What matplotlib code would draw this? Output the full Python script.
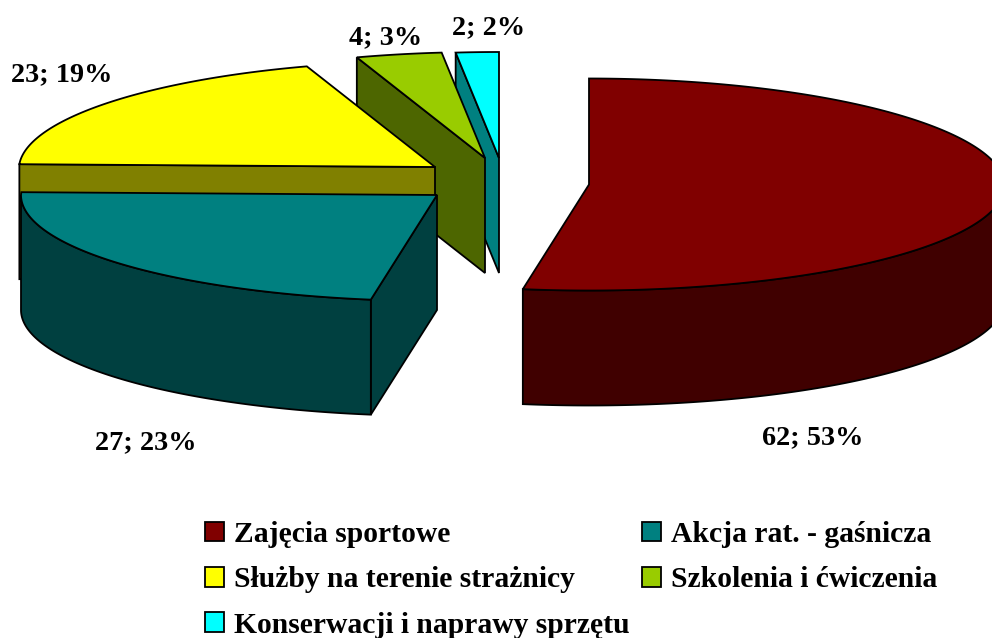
import numpy as np
import matplotlib
matplotlib.use("Agg")
import matplotlib.pyplot as plt
from matplotlib.patches import Patch

# data
categories = ["Zajęcia sportowe", "Akcja rat. - gaśnicza", "Służby na terenie strażnicy",
              "Szkolenia i ćwiczenia", "Konserwacji i naprawy sprzętu"]
values = [62, 27, 23, 4, 2]

# colors of top surface and of the shaded side
top_colors = ["#800000", "#008080", "#FFFF00", "#99CC00", "#00FFFF"]
side_colors = ["#400000", "#004040", "#808000", "#4D6600", "#008080"]

# layout, all in image pixels
centers = [(589, 184.5), (437, 195), (435, 167), (485, 158), (499, 158)]
label_pos = [(813, 438), (146, 443), (62, 75), (386, 38), (489, 28)]
rx = 416
ry = 106
depth = 115

plt.rcParams['font.family'] = ['Liberation Serif', 'DejaVu Serif']
plt.rcParams['font.weight'] = 'bold'
plt.rcParams['font.size'] = 20.3

fig = plt.figure(figsize=(9.92, 6.38), dpi=100)
ax = fig.add_axes([0, 0, 1, 1])
ax.set_xlim(0, 992)
ax.set_ylim(638, 0)
ax.axis('off')


def rim(cx, cy, a1, a2):
    # points on the ellipse, angle clockwise from 12 o'clock
    n = max(2, int(a2 - a1) * 2)
    t = np.radians(np.linspace(a1, a2, n))
    # back of the pie is a bit narrower
    scale = 1 - 0.02 * np.clip(np.cos(t), 0, None)
    return cx + rx * scale * np.sin(t), cy - ry * np.cos(t)


total = sum(values)
edges = np.cumsum([0] + values) / total * 360

# back slices first so the front ones cover them
for i in range(len(values) - 1, -1, -1):
    cx, cy = centers[i]
    a1, a2 = edges[i], edges[i + 1]

    # cut face on the start angle, only seen on the left half
    if a1 > 180:
        x0, y0 = rim(cx, cy, a1, a1)
        fx = [cx, x0[0], x0[0], cx]
        fy = [cy, y0[0], y0[0] + depth, cy + depth]
        ax.fill(fx, fy, fc=side_colors[i], ec='black', lw=1.3)

    # outer wall, front part of the rim
    w1, w2 = max(a1, 90), min(a2, 270)
    if w1 < w2:
        x, y = rim(cx, cy, w1, w2)
        ax.fill(np.r_[x, x[::-1]], np.r_[y, y[::-1] + depth],
                fc=side_colors[i], ec='black', lw=1.3)

    # top
    x, y = rim(cx, cy, a1, a2)
    ax.fill(np.r_[cx, x], np.r_[cy, y], fc=top_colors[i], ec='black', lw=1.3)

for v, pos in zip(values, label_pos):
    ax.text(pos[0], pos[1], "%d; %d%%" % (v, round(100 * v / total)),
            ha='center', va='center', color='black')

# legend fills column by column
order = [0, 2, 4, 1, 3]
handles = [Patch(fc=top_colors[i], ec='black', lw=1.3, label=categories[i]) for i in order]
ax.legend(handles=handles, ncol=2, loc='upper left', bbox_to_anchor=(205 / 992, 1 - 521 / 638),
          frameon=False, borderpad=0, borderaxespad=0, fontsize=21.3, handlelength=0.65,
          handleheight=0.65, handletextpad=0.34, labelspacing=0.62, columnspacing=0.4)

fig.savefig("out.png", dpi=100)
